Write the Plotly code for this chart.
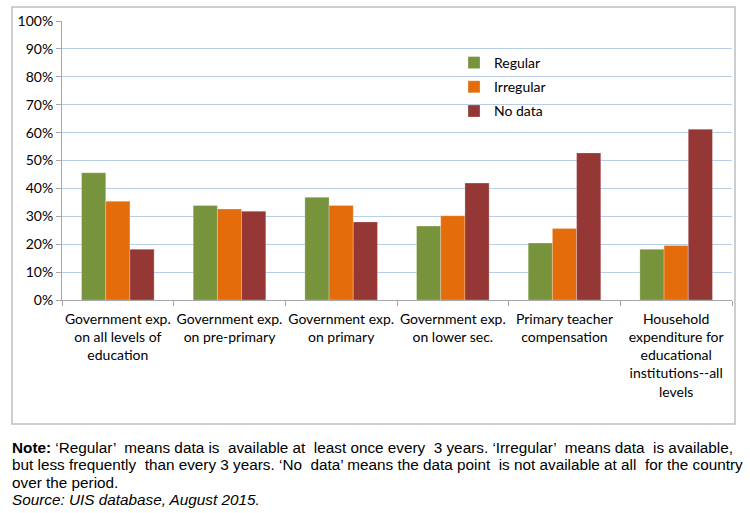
import plotly.graph_objects as go

categories = [
    "Government exp.<br>on all levels of<br>education",
    "Government exp.<br>on pre-primary",
    "Government exp.<br>on primary",
    "Government exp.<br>on lower sec.",
    "Primary teacher<br>compensation",
    "Household<br>expenditure for<br>educational<br>institutions--all<br>levels",
]
regular = [0.456, 0.339, 0.368, 0.265, 0.204, 0.182]
irregular = [0.354, 0.326, 0.339, 0.302, 0.256, 0.195]
no_data = [0.182, 0.318, 0.280, 0.419, 0.527, 0.612]
series_names = ["Regular", "Irregular", "No data"]
series_colors = ["#77933C", "#E46C0A", "#953735"]
y_ticks = [0, 0.1, 0.2, 0.3, 0.4, 0.5, 0.6, 0.7, 0.8, 0.9, 1.0]

note_lines = [
    "<b>Note:</b> ‘Regular’ means data is available at least once every 3 years. ‘Irregular’ means data is available,",
    "but less frequently than every 3 years. ‘No data’ means the data point is not available at all for the country",
    "over the period.",
    "<i>Source: UIS database, August 2015.</i>",
]
note_extra_spaces = [6, 4, 0, 0]
note_y_px = [447, 464, 482, 499]

W, H = 750, 513
L, R, T, B = 62, 18, 21, 213
pw = W - L - R
ph = H - T - B

def px_x(x):
    return (x - L) / pw

def px_y(y):
    return (H - B - y) / ph

def justify(line, extra):
    # approximate full justification by widening some word gaps
    if extra <= 0:
        return line
    words = line.split(" ")
    gaps = len(words) - 1
    chosen = set(int((i + 0.5) * gaps / extra) for i in range(extra))
    out = words[0]
    for g in range(gaps):
        out += (" \u00a0" if g in chosen else " ") + words[g + 1]
    return out

fig = go.Figure()
for name, vals, col in zip(series_names, [regular, irregular, no_data], series_colors):
    fig.add_trace(go.Bar(
        x=categories, y=vals, name=name, legendgroup=name,
        marker=dict(color=col, line=dict(color="rgba(255,255,255,0.5)", width=0.5)),
    ))

fig.update_layout(
    width=W, height=H,
    margin=dict(l=L, r=R, t=T, b=B, autoexpand=False),
    paper_bgcolor="white", plot_bgcolor="white",
    barmode="group", bargap=0.35, bargroupgap=0,
    font=dict(family="Lato, Open Sans, sans-serif", size=14, color="#000000"),
    showlegend=True,
    legend=dict(
        x=px_x(454), y=px_y(47), xanchor="left", yanchor="top",
        bgcolor="rgba(0,0,0,0)", font=dict(size=14, family="Lato, sans-serif"),
        tracegroupgap=3,
    ),
    xaxis=dict(
        showline=True, linecolor="#a6a6a6", linewidth=1,
        ticks="outside", tickson="boundaries", ticklen=5, tickcolor="#a6a6a6",
        tickfont=dict(size=14, family="Lato, sans-serif"),
        tickangle=0, automargin=False, ticklabelstandoff=6,
        showgrid=False,
    ),
    yaxis=dict(
        range=[0, 1.0], tickvals=y_ticks, tickformat=".0%",
        showline=True, linecolor="#a6a6a6", linewidth=1,
        ticks="outside", ticklen=5, tickcolor="#a6a6a6",
        gridcolor="#b8cde6", gridwidth=1,
        tickfont=dict(size=14, family="Lato, sans-serif"),
        zeroline=False, automargin=False,
    ),
)

fig.add_shape(
    type="rect", xref="paper", yref="paper",
    x0=px_x(12), x1=px_x(735), y0=px_y(424), y1=px_y(7),
    line=dict(color="#bfbfbf", width=1.5), fillcolor="rgba(0,0,0,0)", layer="below",
)

for line, extra, ypx in zip(note_lines, note_extra_spaces, note_y_px):
    fig.add_annotation(
        xref="paper", yref="paper", x=px_x(10), y=px_y(ypx),
        xanchor="left", yanchor="middle", align="left", showarrow=False,
        text=justify(line, extra),
        font=dict(family="Liberation Sans, Arial, sans-serif", size=15.3, color="#000000"),
    )

fig.write_html(
    "out.html",
    config={"displayModeBar": False},
    post_script="document.body.style.margin='0';document.body.style.padding='0';",
)
